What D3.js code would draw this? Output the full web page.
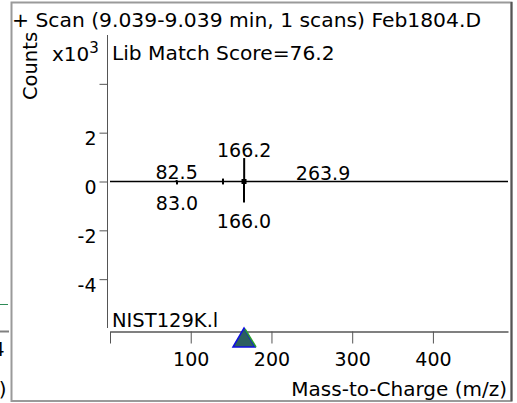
<!DOCTYPE html>
<html><head><meta charset="utf-8">
<script src="https://cdn.jsdelivr.net/npm/d3@7"></script>
<style>
html,body{margin:0;padding:0;background:#fff;}
text{font-family:"DejaVu Sans",Verdana,sans-serif;fill:#000;}
</style></head>
<body><svg id="c" width="517" height="403"></svg>
<script>
// ---- data ----
const titleText = "+ Scan (9.039-9.039 min, 1 scans) Feb1804.D";
const scoreText = "Lib Match Score=76.2";
const libText = "NIST129K.l";
const xTicks = [0, 100, 200, 300, 400];
const xTickLabels = ["", "100", "200", "300", "400"];
const yTicks = [-4, -2, 0, 2, 4];
const yTickLabels = ["-4", "-2", "0", "2", ""];
// sample spectrum (upper), counts x10^3
const sampleMz = [82.5, 140, 166.2, 263.9];
const sampleCounts = [0.06, 0.12, 0.96, 0.02];
const sampleLabels = ["82.5", "", "166.2", "263.9"];
// library spectrum (lower, mirrored)
const libMz = [83.0, 140, 166.0];
const libCounts = [-0.12, -0.12, -0.86];
const libLabels = ["83.0", "", "166.0"];
const baselineMz = [0, 493];
const markerMz = 166;

const svg = d3.select("#c");
const x = d3.scaleLinear().domain([0, 493]).range([110, 508]);
const y = d3.scaleLinear().domain([-6, 6]).range([328, 35]);

// left neighbour remnants
svg.append("line").attr("x1",0).attr("x2",8).attr("y1",304.5).attr("y2",304.5).attr("stroke","#2e8b57").attr("stroke-width",1);
svg.append("line").attr("x1",0).attr("x2",9).attr("y1",331.5).attr("y2",331.5).attr("stroke","#808080").attr("stroke-width",2);
svg.append("text").attr("x",4.5).attr("y",356).attr("text-anchor","end").style("font-size","19px").text("4");
svg.append("text").attr("x",6.5).attr("y",396).attr("text-anchor","end").style("font-size","20px").text(")");

// frame
svg.append("rect").attr("x",11.5).attr("y",2.5).attr("width",500).attr("height",398.5)
  .attr("fill","#fff").attr("stroke","#9a9a9a").attr("stroke-width",2);
svg.append("line").attr("x1",511.5).attr("x2",511.5).attr("y1",2).attr("y2",401).attr("stroke","#555").attr("stroke-width",2);

// title texts
svg.append("text").attr("x",12).attr("y",27).style("font-size","20.3px").text(titleText);
svg.append("text").attr("x",112).attr("y",60).style("font-size","20.2px").text(scoreText);
svg.append("text").attr("transform","translate(37,66) rotate(-90)").attr("text-anchor","middle").style("font-size","19.5px").text("Counts");
const xt = svg.append("text").attr("x",52).attr("y",61).style("font-size","20px");
xt.append("tspan").text("x10");
xt.append("tspan").attr("dy",-8).style("font-size","15px").text("3");

// y axis
svg.append("line").attr("x1",107.5).attr("x2",107.5).attr("y1",y(6)).attr("y2",y(-6)).attr("stroke","#555").attr("stroke-width",1);
const yAxis = d3.axisLeft(y).tickValues(yTicks).tickFormat((d,i)=>yTickLabels[i]).tickSize(8).tickPadding(3);
const gy = svg.append("g").attr("transform","translate(107.5,0)").call(yAxis);
gy.select(".domain").remove();
gy.selectAll(".tick line").attr("stroke","#555");
gy.selectAll(".tick text").style("font-size","19px").style("font-family","DejaVu Sans").attr("fill","#000").attr("dy",0).attr("y",12);

// x axis
const xAxis = d3.axisBottom(x).tickValues(xTicks).tickFormat((d,i)=>xTickLabels[i]).tickSize(12).tickPadding(6).tickSizeOuter(0);
const gx = svg.append("g").attr("transform","translate(0,331.5)").call(xAxis);
gx.select(".domain").attr("stroke","#808080").attr("stroke-width",2);
gx.selectAll(".tick line").attr("stroke","#555");
gx.selectAll(".tick text").style("font-size","19px").style("font-family","DejaVu Sans").attr("fill","#000").attr("y",34).attr("dy",0);

svg.append("text").attr("x",507).attr("y",396).attr("text-anchor","end").style("font-size","20px").text("Mass-to-Charge (m/z)");
svg.append("text").attr("x",112).attr("y",327).style("font-size","19.5px").text(libText);

// baseline
svg.append("line").attr("x1",x(baselineMz[0])).attr("x2",x(baselineMz[1])).attr("y1",y(0)).attr("y2",y(0)).attr("stroke","#000").attr("stroke-width",1.6);

// peaks
const up = sampleMz.map((m,i)=>({m, c:sampleCounts[i], l:sampleLabels[i]}));
const dn = libMz.map((m,i)=>({m, c:libCounts[i], l:libLabels[i]}));
svg.selectAll(".pu").data(up).enter().append("line")
  .attr("x1",d=>x(d.m)).attr("x2",d=>x(d.m)).attr("y1",y(0)).attr("y2",d=>y(d.c))
  .attr("stroke","#000").attr("stroke-width",2);
svg.selectAll(".pd").data(dn).enter().append("line")
  .attr("x1",d=>x(d.m)).attr("x2",d=>x(d.m)).attr("y1",y(0)).attr("y2",d=>y(d.c))
  .attr("stroke","#000").attr("stroke-width",2);
svg.append("rect").attr("x",x(markerMz)-2.5).attr("y",y(0)-2.5).attr("width",5).attr("height",5).attr("fill","#000");
svg.selectAll(".lu").data(up.filter(d=>d.l)).enter().append("text")
  .attr("x",d=>x(d.m)).attr("y",d=>Math.min(y(d.c), y(0)-1)-1).attr("text-anchor","middle").style("font-size","19px").text(d=>d.l);
svg.selectAll(".ld").data(dn.filter(d=>d.l)).enter().append("text")
  .attr("x",d=>x(d.m)).attr("y",d=>Math.max(y(d.c), y(0)+1)+26).attr("text-anchor","middle").style("font-size","19px").text(d=>d.l);

// retention marker triangle
const tx = x(markerMz);
svg.append("path").attr("d",`M${tx-11},347 L${tx},328 L${tx+11},347 Z`).attr("fill","#2c5f5f").attr("stroke","#1010e0").attr("stroke-width",1.5);
svg.append("path").attr("d",`M${tx+1},329 L${tx+12},347`).attr("fill","none").attr("stroke","#2aa02a").attr("stroke-width",1.5);
</script></body></html>
